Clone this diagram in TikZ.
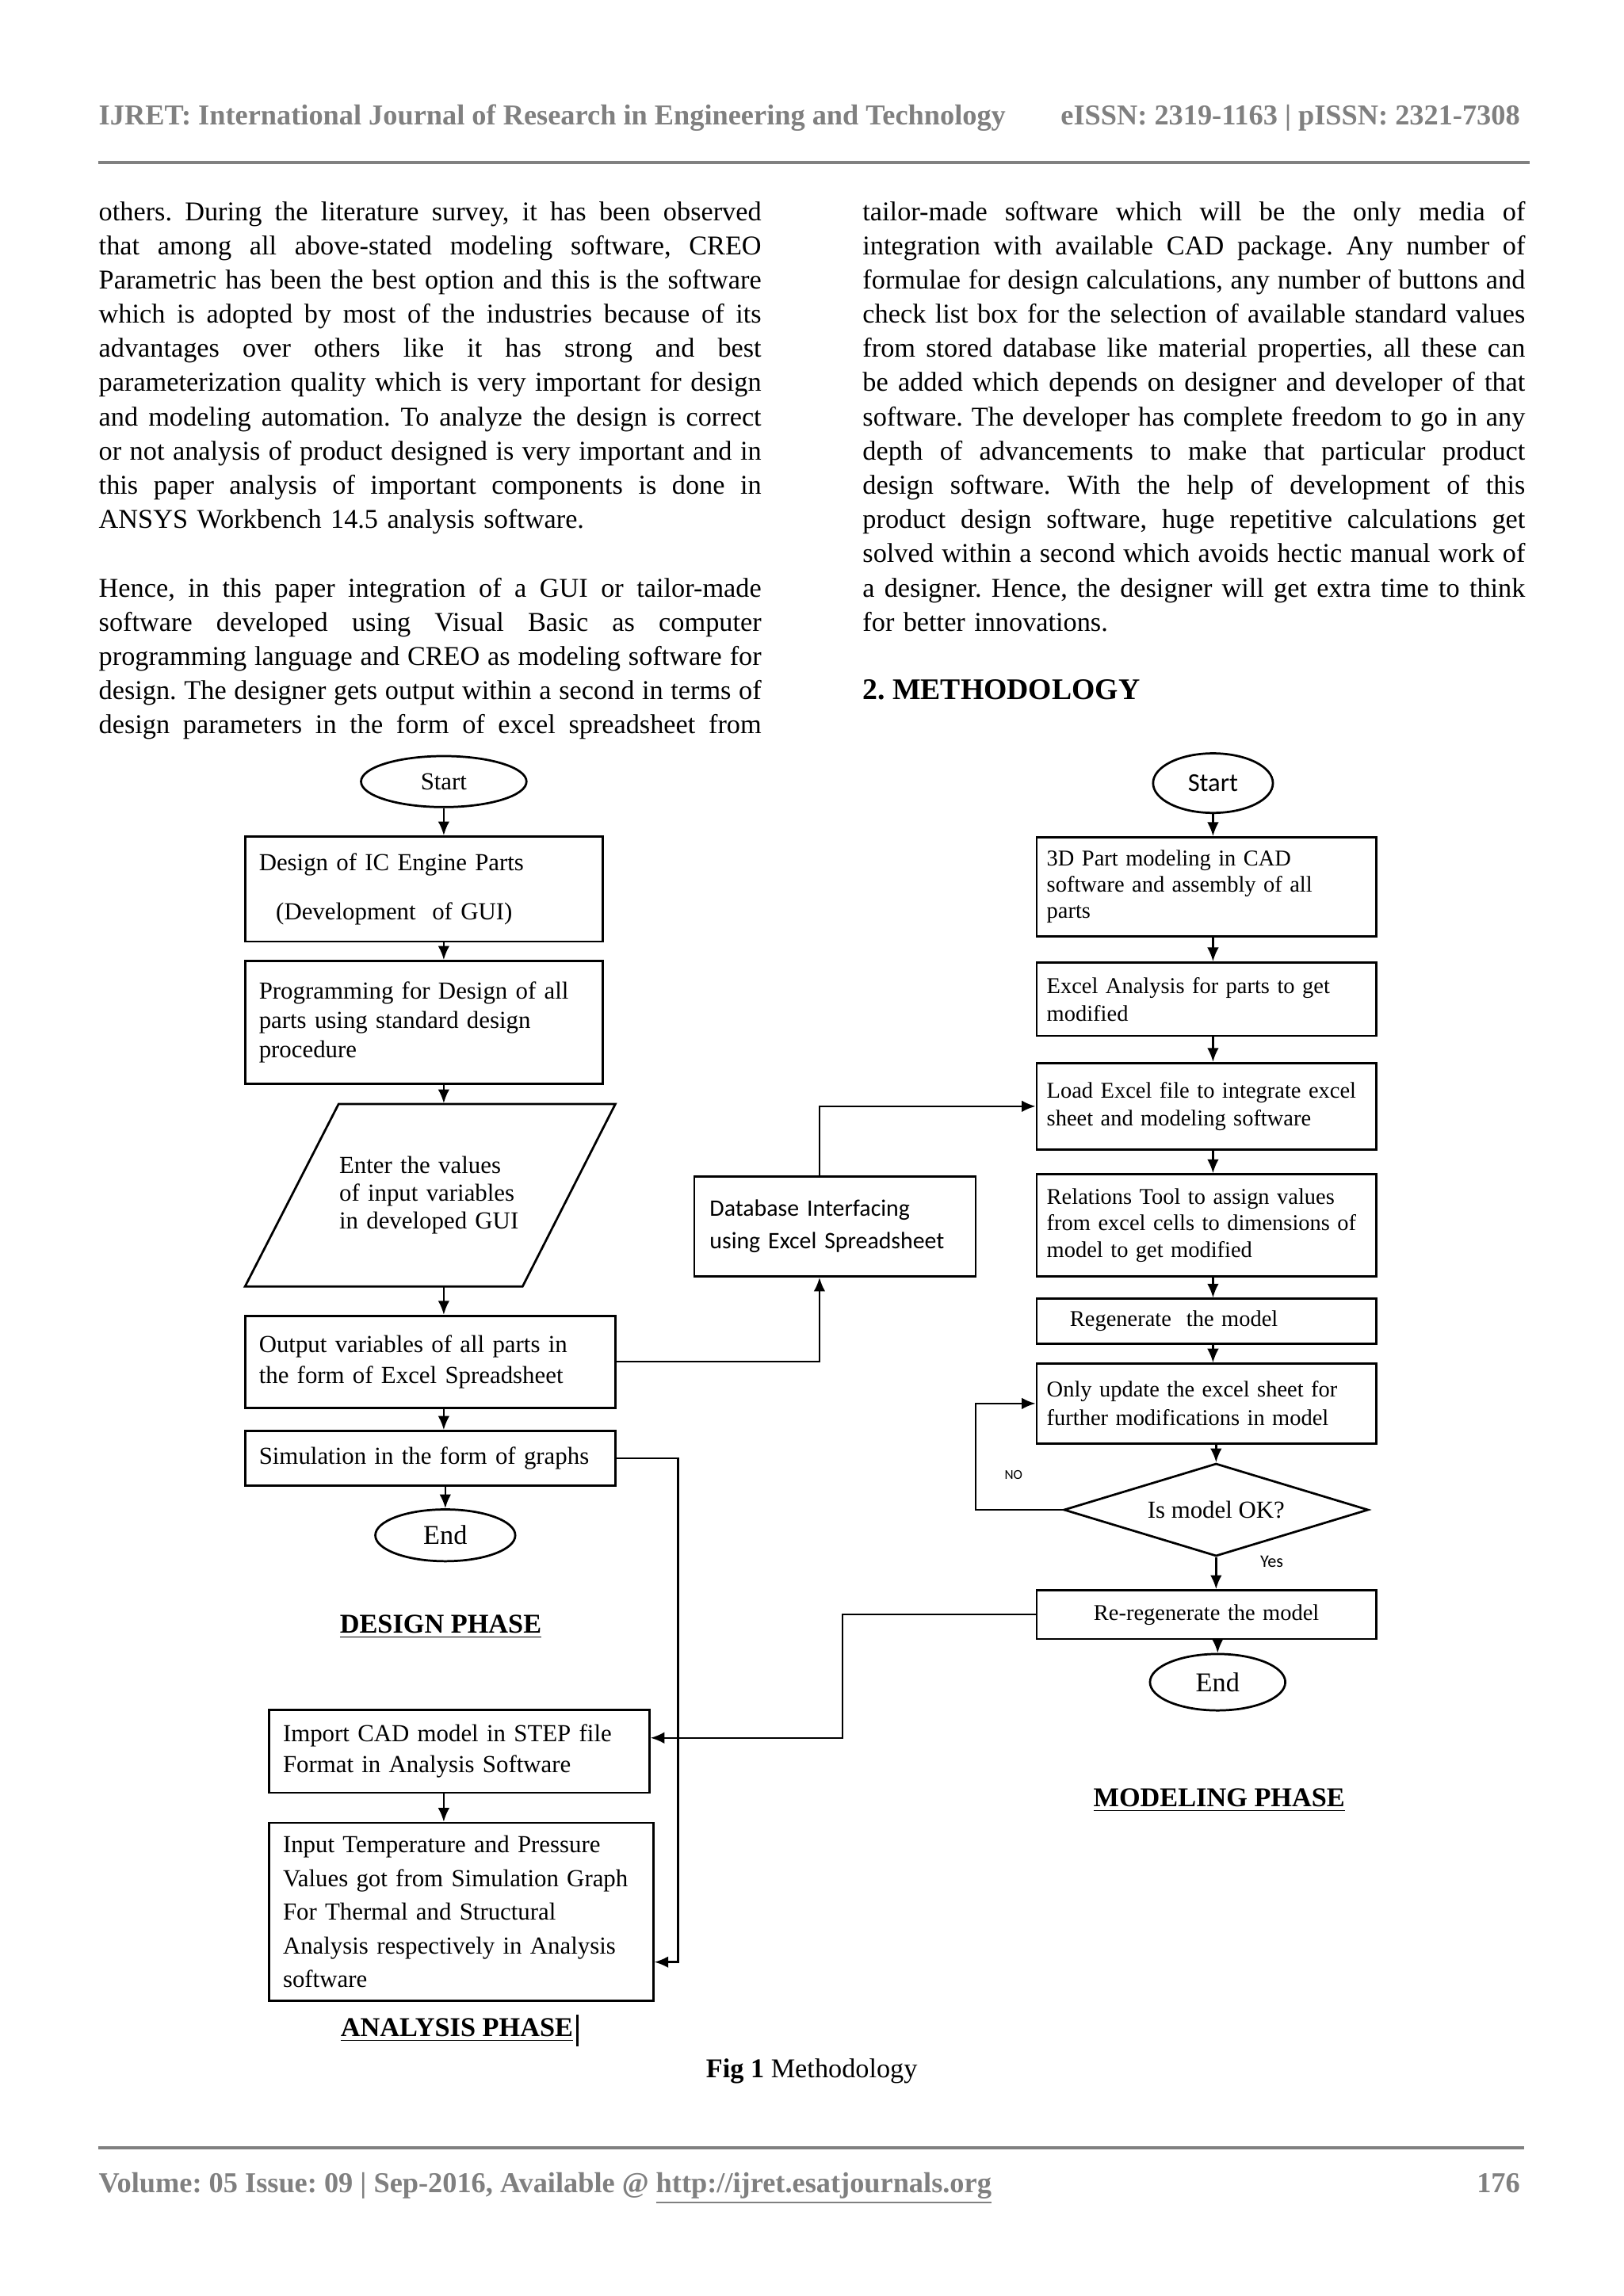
\documentclass[tikz,border=0pt]{standalone}
\usepackage{fontspec}
\setmainfont{Liberation Serif}
\newfontfamily\calibri{Carlito}
\usetikzlibrary{arrows.meta,shapes.geometric}
\definecolor{hdr}{RGB}{128,128,128}
\frenchspacing
\newlength\colw
\setlength\colw{85.7mm}
\newcommand\jl[1]{\leavevmode\hbox to\colw{\spaceskip=.25em plus 1em minus .06em\relax#1}}

\begin{document}
\begin{tikzpicture}[x=1mm,y=-1mm,line width=.5pt,
  box/.style={draw,line width=.8pt,rectangle,inner xsep=1.8mm,inner ysep=0pt,align=left,font=\fontsize{9}{10.8}\selectfont},
  rbox/.style={box,inner xsep=1.3mm,text width=41.3mm,font=\fontsize{8.3}{9.7}\selectfont},
  oval/.style={draw,ellipse,line width=.8pt,inner sep=0pt},
  arr/.style={-{Latex[length=1.8mm,width=1.5mm]},line width=.7pt},
  phase/.style={anchor=base,inner sep=0pt,font=\fontsize{10}{12}\selectfont\bfseries},
  body/.style={anchor=base west,inner sep=0pt,text width=\colw,font=\fontsize{10}{12.6}\selectfont},
  hdrtext/.style={inner sep=0pt,text=hdr,font=\fontsize{10.6}{13}\selectfont\bfseries}]
\fill[white] (0,0) rectangle (210,297);
\path[use as bounding box] (0,0) rectangle (210,297);
\node[hdrtext,anchor=base west] (hl) at (12.7,16.1) {IJRET: International Journal of Research in Engineering and Technology};
\node[hdrtext,anchor=base east] (hr) at (196.7,16.1) {eISSN: 2319-1163 | pISSN: 2321-7308};
\draw[hdr,line width=1.2pt] (12.7,21.0) -- (197.9,21.0);
\node[body] (p1) at (12.7,28.5) {\jl{others. During the literature survey, it has been observed}\\
\jl{that among all above-stated modeling software, CREO}\\
\jl{Parametric has been the best option and this is the software}\\
\jl{which is adopted by most of the industries because of its}\\
\jl{advantages over others like it has strong and best}\\
\jl{parameterization quality which is very important for design}\\
\jl{and modeling automation. To analyze the design is correct}\\
\jl{or not analysis of product designed is very important and in}\\
\jl{this paper analysis of important components is done in}\\
ANSYS Workbench 14.5 analysis software.};
\node[body] (p2) at (12.7,77.2) {\jl{Hence, in this paper integration of a GUI or tailor-made}\\
\jl{software developed using Visual Basic as computer}\\
\jl{programming language and CREO as modeling software for}\\
\jl{design. The designer gets output within a second in terms of}\\
\jl{design parameters in the form of excel spreadsheet from}};
\node[body] (p3) at (111.5,28.5) {\jl{tailor-made software which will be the only media of}\\
\jl{integration with available CAD package. Any number of}\\
\jl{formulae for design calculations, any number of buttons and}\\
\jl{check list box for the selection of available standard values}\\
\jl{from stored database like material properties, all these can}\\
\jl{be added which depends on designer and developer of that}\\
\jl{software. The developer has complete freedom to go in any}\\
\jl{depth of advancements to make that particular product}\\
\jl{design software. With the help of development of this}\\
\jl{product design software, huge repetitive calculations get}\\
\jl{solved within a second which avoids hectic manual work of}\\
\jl{a designer. Hence, the designer will get extra time to think}\\
for better innovations.};
\node[anchor=base west,inner sep=0pt,font=\fontsize{11}{13}\selectfont\bfseries] (sec) at (111.5,90.5) {2. METHODOLOGY};
\node[oval,minimum width=21.4mm,minimum height=6.6mm,font=\fontsize{9}{10.8}\selectfont] (sl) at (57.4,101.1) {Start};
\node[box,text width=42.7mm,minimum height=13.6mm] (b1) at (54.85,115.0) {Design of IC Engine Parts\\[2.6mm]\hspace*{2.2mm}(Development\ \ of GUI)};
\node[box,text width=42.7mm,minimum height=15.9mm] (b2) at (54.85,132.25) {Programming for Design of all\\parts using standard design\\procedure};
\draw[line width=.8pt] (43.8,142.8) -- (79.6,142.8) -- (67.6,166.4) -- (31.7,166.4) -- cycle;
\node[anchor=west,inner sep=0pt,minimum height=23.6mm,text width=25mm,align=left,font=\fontsize{9}{10.2}\selectfont] (enter) at (43.8,154.6) {Enter the values\\of input variables\\in developed GUI};
\node[box,text width=44.3mm,minimum height=11.9mm,font=\fontsize{9}{11.4}\selectfont] (out) at (55.65,176.15) {Output variables of all parts in\\the form of Excel Spreadsheet};
\node[box,text width=44.3mm,minimum height=7.1mm] (sim) at (55.65,188.65) {Simulation in the form of graphs};
\node[oval,minimum width=18.1mm,minimum height=6.7mm,font=\fontsize{10}{12}\selectfont] (el) at (57.6,198.6) {End};
\node[phase] (dp) at (57.0,211.2) {\underline{DESIGN PHASE}};
\node[box,text width=45.6mm,minimum height=10.7mm,font=\fontsize{9}{11.4}\selectfont] (imp) at (59.4,226.55) {Import CAD model in STEP file\\Format in Analysis Software};
\node[box,text width=46.1mm,minimum height=23.0mm,font=\fontsize{9}{12.4}\selectfont] (inp) at (59.65,247.3) {Input Temperature and Pressure\\Values got from Simulation Graph\\For Thermal and Structural\\Analysis respectively in Analysis\\software};
\node[phase] (ap) at (59.1,263.4) {\underline{ANALYSIS PHASE}};
\draw[line width=1pt] ([xshift=.5mm,yshift=.4mm]ap.north east) -- ([xshift=.5mm,yshift=-.5mm]ap.south east);
\node[box,text width=32.4mm,inner xsep=2mm,minimum height=12.9mm,font=\calibri\fontsize{8.7}{12}\selectfont] (db) at (108.0,158.65) {Database Interfacing\\using Excel\,\,Spreadsheet};
\node[oval,minimum width=15.5mm,minimum height=7.7mm,font=\calibri\fontsize{9.5}{11}\selectfont] (sr) at (156.9,101.3) {Start};
\node[rbox,minimum height=12.8mm] (r1) at (156.05,114.7) {3D Part modeling in CAD\\software and assembly of all\\parts};
\node[rbox,minimum height=9.5mm,font=\fontsize{8.3}{10.2}\selectfont] (r2) at (156.05,129.25) {Excel Analysis for parts to get\\modified};
\node[rbox,minimum height=11.2mm,font=\fontsize{8.3}{10.2}\selectfont] (r3) at (156.05,143.1) {Load Excel file to integrate excel\\sheet and modeling software};
\node[rbox,minimum height=13.2mm] (r4) at (156.05,158.5) {Relations Tool to assign values\\from excel cells to dimensions of\\model to get modified};
\node[rbox,minimum height=5.8mm] (r5) at (156.05,170.9) {\hspace*{3mm}Regenerate\ \ the model};
\node[rbox,minimum height=10.3mm,font=\fontsize{8.3}{10.4}\selectfont] (r6) at (156.05,181.55) {Only update the excel sheet for\\further modifications in model};
\node[draw,diamond,aspect=3.5,line width=.8pt,inner sep=0pt,minimum width=39.4mm,minimum height=12.0mm,font=\fontsize{9}{10.8}\selectfont] (dia) at (157.3,195.3) {Is model OK?};
\node[rbox,align=center,minimum height=6.3mm] (r7) at (156.05,208.85) {Re-regenerate the model};
\node[oval,minimum width=17.5mm,minimum height=7.3mm,font=\fontsize{10}{12}\selectfont] (er) at (157.5,217.6) {End};
\node[phase] (mp) at (157.7,233.7) {\underline{MODELING PHASE}};
\node[inner sep=0pt,font=\calibri\fontsize{5}{6}\selectfont] (no) at (131.1,190.8) {NO};
\node[inner sep=0pt,font=\calibri\fontsize{6.5}{7}\selectfont] (yes) at (164.5,202.0) {Yes};
\coordinate (xl) at (106.0,160.0);
\coordinate (drop) at (87.7,253.8);
\coordinate (turn) at (109.0,224.8);
\coordinate (nox) at (126.2,190.0);
\draw[arr] (sl.south) -- (sl.south |- b1.north);
\draw[arr] (b1.south -| sl) -- (b2.north -| sl);
\draw[arr] (b2.south -| sl) -- (enter.north -| sl);
\draw[arr] (enter.south -| sl) -- (out.north -| sl);
\draw[arr] (out.south -| sl) -- (sim.north -| sl);
\draw[arr] (sim.south -| el) -- (el.north);
\draw[arr] (imp.south -| sl) -- (inp.north -| sl);
\draw[arr] (out.east) -| (xl |- db.south);
\draw[arr] (xl |- db.north) |- (r3.west);
\draw[arr] (sim.east) -| (drop) -- (drop -| inp.east);
\draw[arr] (sr.south) -- (sr.south |- r1.north);
\draw[arr] (r1.south -| sr) -- (r2.north -| sr);
\draw[arr] (r2.south -| sr) -- (r3.north -| sr);
\draw[arr] (r3.south -| sr) -- (r4.north -| sr);
\draw[arr] (r4.south -| sr) -- (r5.north -| sr);
\draw[arr] (r5.south -| sr) -- (r6.north -| sr);
\draw[arr] (r6.south -| dia) -- (dia.north);
\draw[arr] (dia.south) -- (dia.south |- r7.north);
\draw[arr] (r7.south -| er) -- (er.north);
\draw[arr] (dia.west) -- (dia.west -| nox) |- (r6.west);
\draw[arr] (r7.west) -| (turn) -- (turn -| imp.east);
\node[anchor=base,inner sep=0pt,font=\fontsize{10}{12}\selectfont] (cap) at (105.0,268.8) {\textbf{Fig 1} Methodology};
\draw[hdr,line width=1.2pt] (12.7,277.8) -- (197.1,277.8);
\node[hdrtext,anchor=base west] (fl) at (12.7,283.6) {Volume: 05 Issue: 09 | Sep-2016, Available @ \underline{http://ijret.esatjournals.org}};
\node[hdrtext,anchor=base east] (fr) at (196.7,283.6) {176};
\end{tikzpicture}
\end{document}
